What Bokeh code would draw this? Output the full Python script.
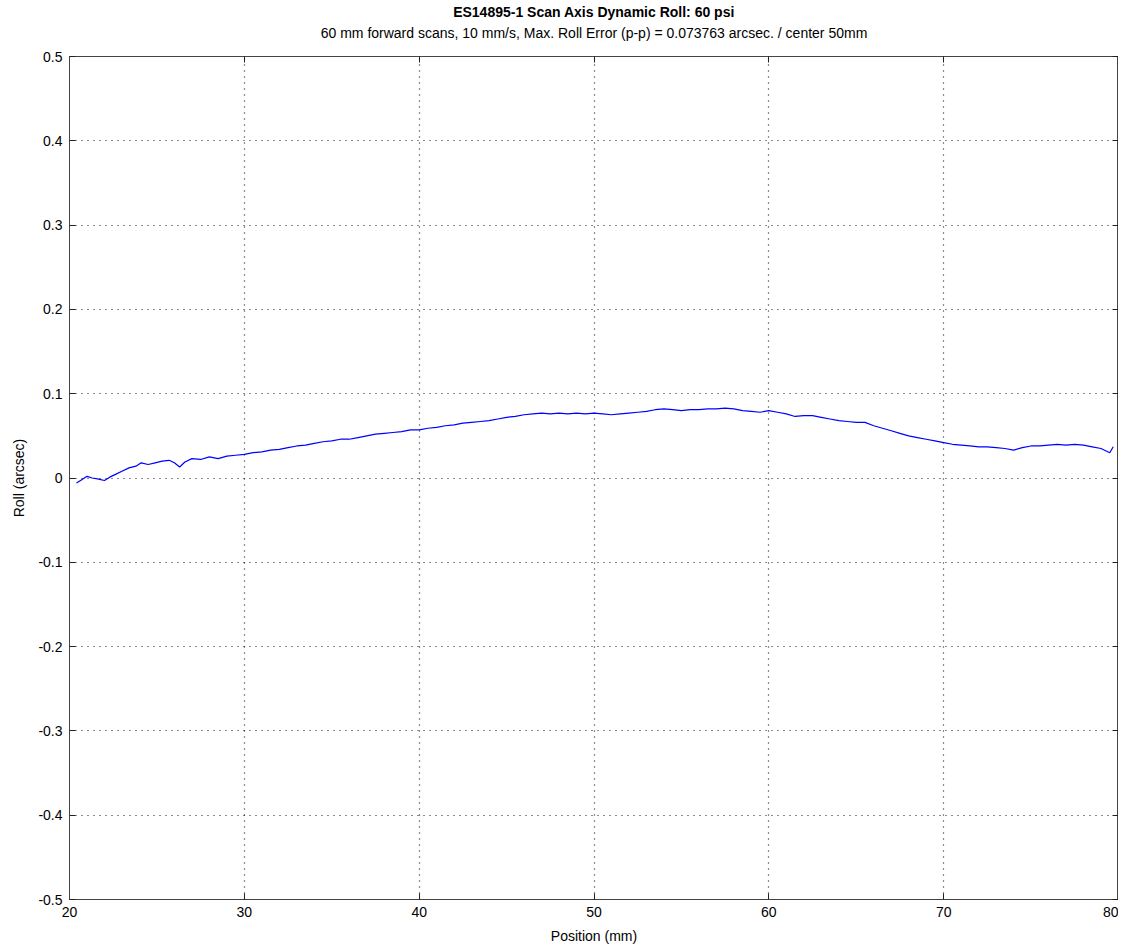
from bokeh.plotting import figure
from bokeh.models import (FixedTicker, CustomJSTickFormatter, LinearAxis, Title, Range1d)
from bokeh.embed import file_html
from bokeh.resources import INLINE

title_main = "ES14895-1 Scan Axis Dynamic Roll: 60 psi"
title_sub = "60 mm forward scans, 10 mm/s, Max. Roll Error (p-p) = 0.073763 arcsec. / center 50mm"
x_label = "Position (mm)"
y_label = "Roll (arcsec)"

x_ticks = [20, 30, 40, 50, 60, 70, 80]
y_ticks = [-0.5, -0.4, -0.3, -0.2, -0.1, 0, 0.1, 0.2, 0.3, 0.4, 0.5]

position = [20.4, 20.7, 21.0, 21.3, 21.6, 22.0, 22.3, 22.6, 23.0, 23.4, 23.8, 24.1, 24.5, 24.9,
            25.3, 25.7, 26.0, 26.3, 26.6, 27.0, 27.5, 28.0, 28.5, 29.0, 29.5, 30.0, 30.5, 31.0,
            31.5, 32.0, 32.5, 33.0, 33.5, 34.0, 34.5, 35.0, 35.5, 36.0, 36.5, 37.0, 37.5, 38.0,
            38.5, 39.0, 39.5, 40.0, 40.5, 41.0, 41.5, 42.0, 42.5, 43.0, 43.5, 44.0, 44.5, 45.0,
            45.5, 46.0, 46.5, 47.0, 47.5, 48.0, 48.5, 49.0, 49.5, 50.0, 50.5, 51.0, 51.5, 52.0,
            52.5, 53.0, 53.5, 54.0, 54.5, 55.0, 55.5, 56.0, 56.5, 57.0, 57.5, 58.0, 58.5, 59.0,
            59.5, 60.0, 60.5, 61.0, 61.5, 62.0, 62.5, 63.0, 63.5, 64.0, 64.5, 65.0, 65.5, 66.0,
            66.5, 67.0, 67.5, 68.0, 68.5, 69.0, 69.5, 70.0, 70.5, 71.0, 71.5, 72.0, 72.5, 73.0,
            73.5, 74.0, 74.5, 75.0, 75.5, 76.0, 76.5, 77.0, 77.5, 78.0, 78.5, 79.0, 79.5, 79.7]
roll = [-0.006, -0.002, 0.002, 0.000, -0.001, -0.003, 0.001, 0.004, 0.008, 0.012, 0.014, 0.018,
        0.016, 0.018, 0.020, 0.021, 0.018, 0.013, 0.019, 0.023, 0.022, 0.025, 0.023, 0.026,
        0.027, 0.028, 0.030, 0.031, 0.033, 0.034, 0.036, 0.038, 0.039, 0.041, 0.043, 0.044,
        0.046, 0.046, 0.048, 0.050, 0.052, 0.053, 0.054, 0.055, 0.057, 0.057, 0.059, 0.060,
        0.062, 0.063, 0.065, 0.066, 0.067, 0.068, 0.070, 0.072, 0.073, 0.075, 0.076, 0.077,
        0.076, 0.077, 0.076, 0.077, 0.076, 0.077, 0.076, 0.075, 0.076, 0.077, 0.078, 0.079,
        0.081, 0.082, 0.081, 0.080, 0.081, 0.081, 0.082, 0.082, 0.083, 0.082, 0.080, 0.079,
        0.078, 0.080, 0.078, 0.076, 0.073, 0.074, 0.074, 0.072, 0.070, 0.068, 0.067, 0.066,
        0.066, 0.062, 0.059, 0.056, 0.053, 0.050, 0.048, 0.046, 0.044, 0.042, 0.040, 0.039,
        0.038, 0.037, 0.037, 0.036, 0.035, 0.033, 0.036, 0.038, 0.038, 0.039, 0.040, 0.039,
        0.040, 0.039, 0.037, 0.035, 0.030, 0.037]

FONT = "Liberation Sans"

p = figure(width=1118, height=951, output_backend="svg", toolbar_location=None,
           x_range=Range1d(20, 80), y_range=Range1d(-0.5, 0.5),
           min_border_left=69, min_border_right=0, min_border_bottom=52, min_border_top=0)

p.line(position, roll, line_color="#0000ff", line_width=1.2)

def style_axis(ax, labels=True):
    ax.major_tick_in = 6
    ax.major_tick_out = 0
    ax.minor_tick_in = 0
    ax.minor_tick_out = 0
    ax.axis_line_color = "#444444"
    ax.major_tick_line_color = "#222222"
    ax.major_label_text_font = FONT
    ax.major_label_text_font_size = "14px"
    ax.major_label_text_color = "black"
    ax.axis_label_text_font = FONT
    ax.axis_label_text_font_size = "14px"
    ax.axis_label_text_font_style = "normal"
    ax.axis_label_text_color = "black"
    if not labels:
        ax.formatter = CustomJSTickFormatter(code="return '';")
        ax.major_label_standoff = 0

fmt = CustomJSTickFormatter(code="return String(Number(tick.toFixed(1)));")

p.xaxis.ticker = FixedTicker(ticks=x_ticks)
p.yaxis.ticker = FixedTicker(ticks=y_ticks)
p.yaxis.formatter = fmt
p.xaxis.formatter = fmt
p.xaxis.axis_label = x_label
p.yaxis.axis_label = y_label
style_axis(p.xaxis[0])
style_axis(p.yaxis[0])
p.xaxis.major_label_standoff = 7
p.yaxis.major_label_standoff = 7
p.xaxis.axis_label_standoff = 8
p.yaxis.axis_label_standoff = 8

ax_r = LinearAxis(ticker=FixedTicker(ticks=y_ticks))
style_axis(ax_r, labels=False)
p.add_layout(ax_r, "right")
ax_t = LinearAxis(ticker=FixedTicker(ticks=x_ticks))
style_axis(ax_t, labels=False)
p.add_layout(ax_t, "above")

# invisible spacer between the plot frame and the subtitle
spacer = LinearAxis(ticker=FixedTicker(ticks=x_ticks))
style_axis(spacer, labels=False)
spacer.major_tick_in = 0
spacer.major_tick_out = 15
spacer.major_tick_line_color = None
spacer.axis_line_color = None
p.add_layout(spacer, "above")

p.add_layout(Title(text=title_sub, align="center", text_font=FONT, text_font_size="14px",
                   text_font_style="normal", text_color="black", standoff=2), "above")
p.title.text = title_main
p.title.text_font = FONT
p.title.text_font_size = "14px"
p.title.text_font_style = "bold"
p.title.align = "center"
p.title.text_color = "black"
p.title.standoff = 3

p.xgrid.ticker = FixedTicker(ticks=x_ticks)
p.ygrid.ticker = FixedTicker(ticks=y_ticks)
for g in (p.xgrid[0], p.ygrid[0]):
    g.grid_line_color = "black"
    g.grid_line_dash = "1 5"
    g.grid_line_width = 1.2
    g.grid_line_alpha = 0.9

p.outline_line_color = "#444444"
p.background_fill_color = "white"
p.border_fill_color = "white"

open("out.html", "w").write(file_html(p, INLINE))
